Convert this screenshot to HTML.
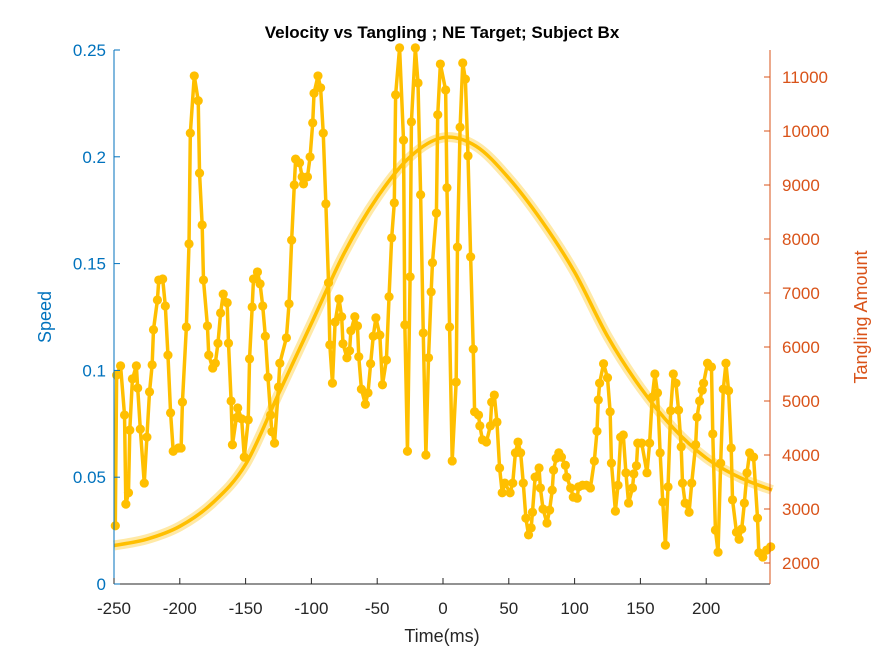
<!DOCTYPE html>
<html><head><meta charset="utf-8"><style>
body{margin:0;background:#fff}
svg text{font-family:"Liberation Sans",Arial,sans-serif}
</style></head><body>
<svg id="chart" width="875" height="656" viewBox="0 0 875 656" xmlns="http://www.w3.org/2000/svg">
<rect width="875" height="656" fill="#fff"/>
<text x="442" y="38" text-anchor="middle" font-size="17" font-weight="bold" fill="#000">Velocity vs Tangling ; NE Target; Subject Bx</text>
<g id="plot"></g>
<text x="442" y="642" text-anchor="middle" font-size="18" fill="#262626">Time(ms)</text>
<text transform="translate(51,317) rotate(-90)" text-anchor="middle" font-size="18" fill="#0072BD">Speed</text>
<text transform="translate(867,317) rotate(-90)" text-anchor="middle" font-size="18" fill="#D95319">Tangling Amount</text>
</svg>
<script>
const xTicks=[-250,-200,-150,-100,-50,0,50,100,150,200];
const leftTicks=[0,0.05,0.1,0.15,0.2,0.25];
const leftTickLabels=["0","0.05","0.1","0.15","0.2","0.25"];
const rightTicks=[2000,3000,4000,5000,6000,7000,8000,9000,10000,11000];
const speedTimes=[-250,-225,-200,-175,-150,-125,-100,-75,-50,-25,0,25,50,75,100,125,150,175,200,225,250];
const speedValues=[0.018,0.021,0.027,0.038,0.056,0.089,0.122,0.155,0.181,0.200,0.209,0.205,0.190,0.170,0.146,0.116,0.092,0.073,0.059,0.050,0.044];
const tangTimes=[-249,-248,-245,-242,-241,-239,-238,-236,-233,-232,-230,-227,-225,-223,-221,-220,-217,-216,-213,-211,-209,-207,-205,-201,-199,-198,-195,-193,-192,-189,-186,-185,-183,-182,-179,-178,-175,-173,-171,-169,-167,-164,-163,-161,-160,-157,-156,-153,-151,-148,-147,-145,-144,-141,-139,-137,-135,-133,-131,-130,-128,-125,-124,-119,-117,-115,-113,-112,-109,-107,-106,-103,-101,-99,-98,-95,-93,-91,-89,-87,-86,-84,-82,-79,-77,-76,-73,-71,-70,-67,-65,-64,-62,-59,-57,-55,-53,-51,-48,-46,-43,-41,-39,-37,-36,-33,-30,-29,-27,-25,-24,-21,-19,-17,-15,-13,-11,-9,-8,-5,-4,-2,2,3,5,7,10,11,13,15,17,19,21,23,24,27,28,30,33,36,37,39,41,43,45,47,51,53,55,57,59,61,63,65,67,68,70,73,74,76,79,81,83,84,86,88,90,93,94,97,99,102,103,106,109,112,115,117,118,119,122,125,127,128,131,133,135,137,139,141,144,145,147,148,151,155,157,159,161,163,165,167,169,171,173,175,177,179,181,182,184,187,189,192,193,195,197,198,201,204,205,207,209,211,213,215,217,219,220,223,225,227,229,231,233,236,239,240,243,246,249];
const tangValues=[2690,5480,5650,4740,3090,3300,4460,5410,5650,5240,4480,3480,4330,5170,5670,6320,6870,7240,7260,6760,5850,4780,4070,4130,4130,4980,6370,7910,9960,11020,10560,9220,8260,7240,6390,5850,5610,5700,6070,6630,6980,6820,6070,5000,4190,4690,4870,4670,3960,4650,5780,6740,7260,7390,7170,6760,6200,5440,4740,4430,4220,5260,5700,6170,6800,7980,9000,9480,9410,9150,9020,9150,9520,10150,10700,11020,10800,9960,8650,7190,6040,5330,6460,6890,6560,6060,5800,5930,6300,6560,6390,5820,5220,4940,5150,5690,6200,6540,6220,5300,5760,6930,8020,8670,10670,11540,9830,6410,4070,7300,10170,11540,10890,8820,6260,4000,5800,7020,7560,8480,10300,11240,10760,8950,6370,3890,5350,7850,10070,11260,10960,9540,7670,5960,4800,4740,4540,4280,4240,4540,4980,5110,4610,3760,3300,3480,3300,3480,4040,4240,4040,3480,2830,2520,2650,2940,3590,3760,3390,3000,2740,2980,3350,3720,3940,4040,3960,3810,3590,3390,3220,3200,3410,3440,3440,3390,3890,4440,5020,5330,5690,5430,4800,3850,2960,3440,4330,4370,3670,3110,3390,3650,3800,4220,4220,3670,4220,5070,5500,5150,4040,3130,2330,3410,4820,5500,5330,4830,4150,3480,3110,2940,3480,4190,4700,5000,5200,5330,5700,5630,4390,2610,2200,3850,5220,5700,5190,4130,3170,2570,2440,2630,3110,3670,4040,3960,2830,2190,2110,2240,2300];

const NS='http://www.w3.org/2000/svg';
const L=114,R=770,T=50,B=584;
function X(t){return L+(t+250)*1.316;}
function YL(v){return B-v/0.25*(B-T);}
function YR(v){return 563-(v-2000)*0.054;}
const g=document.getElementById('plot');
function mk(tag,attrs){const e=document.createElementNS(NS,tag);for(const k in attrs)e.setAttribute(k,attrs[k]);return e;}

function smoothPath(px){let d='M'+px[0][0]+','+px[0][1];for(let i=0;i<px.length-1;i++){const p0=px[Math.max(0,i-1)],p1=px[i],p2=px[i+1],p3=px[Math.min(px.length-1,i+2)];d+=' C'+(p1[0]+(p2[0]-p0[0])/6)+','+(p1[1]+(p2[1]-p0[1])/6)+' '+(p2[0]-(p3[0]-p1[0])/6)+','+(p2[1]-(p3[1]-p1[1])/6)+' '+p2[0]+','+p2[1];}return d;}
const sp=speedTimes.map((t,i)=>[X(t),YL(speedValues[i])]);
const band=mk('path',{d:smoothPath(sp),fill:'none',stroke:'#FFBF00','stroke-opacity':'0.35','stroke-width':'10'});


g.appendChild(band);
const sl=mk('path',{d:smoothPath(sp),fill:'none',stroke:'#FFBF00','stroke-width':'3.5'});


g.appendChild(sl);

const tp=tangTimes.map((t,i)=>X(t)+','+YR(tangValues[i])).join(' ');
const tl=mk('polyline',{points:tp,fill:'none',stroke:'#FFBF00','stroke-width':'3.5','stroke-linejoin':'round'});


g.appendChild(tl);
tangTimes.forEach((t,i)=>{const c=mk('circle',{cx:X(t),cy:YR(tangValues[i]),r:4.6,fill:'#FFBF00'});


g.appendChild(c);});

const ax=mk('g',{});


g.appendChild(ax);
ax.appendChild(mk('line',{x1:L,y1:B,x2:R,y2:B,stroke:'#262626','stroke-width':1}));
ax.appendChild(mk('line',{x1:L,y1:T,x2:L,y2:B,stroke:'#0072BD','stroke-width':1}));
ax.appendChild(mk('line',{x1:R,y1:T,x2:R,y2:B,stroke:'#D95319','stroke-width':1}));
xTicks.forEach(t=>{const x=X(t);ax.appendChild(mk('line',{x1:x,y1:B,x2:x,y2:B-6,stroke:'#262626'}));
const tx=mk('text',{x:x,y:B+30,'text-anchor':'middle','font-size':'17',fill:'#262626'});tx.textContent=t;


ax.appendChild(tx);});
leftTicks.forEach((v,i)=>{const y=YL(v);ax.appendChild(mk('line',{x1:L,y1:y,x2:L+6,y2:y,stroke:'#0072BD'}));
const tx=mk('text',{x:L-8,y:y+6,'text-anchor':'end','font-size':'17',fill:'#0072BD'});tx.textContent=leftTickLabels[i];


ax.appendChild(tx);});
rightTicks.forEach(v=>{const y=YR(v);ax.appendChild(mk('line',{x1:R,y1:y,x2:R-6,y2:y,stroke:'#D95319'}));
const tx=mk('text',{x:R+12,y:y+6,'text-anchor':'start','font-size':'17',fill:'#D95319'});tx.textContent=v;


ax.appendChild(tx);});
</script>
</body></html>
